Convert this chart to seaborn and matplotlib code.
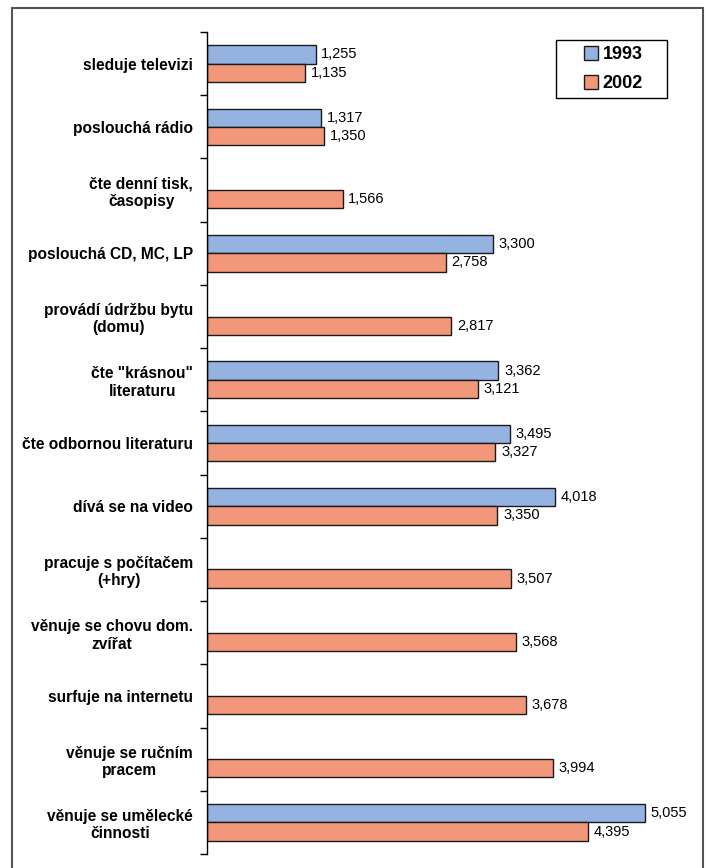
import matplotlib
matplotlib.use("Agg")
import matplotlib.pyplot as plt
import seaborn as sns
import pandas as pd
import numpy as np
from matplotlib.patches import Rectangle

categories = [
    "sleduje televizi",
    "poslouchá rádio",
    "čte denní tisk,\nčasopisy",
    "poslouchá CD, MC, LP",
    "provádí údržbu bytu\n(domu)",
    "čte \"krásnou\"\nliteraturu",
    "čte odbornou literaturu",
    "dívá se na video",
    "pracuje s počítačem\n(+hry)",
    "věnuje se chovu dom.\nzvířat",
    "surfuje na internetu",
    "věnuje se ručním\npracem",
    "věnuje se umělecké\nčinnosti",
]
values_1993 = [1.255, 1.317, np.nan, 3.300, np.nan, 3.362, 3.495, 4.018, np.nan, np.nan, np.nan, np.nan, 5.055]
values_2002 = [1.135, 1.350, 1.566, 2.758, 2.817, 3.121, 3.327, 3.350, 3.507, 3.568, 3.678, 3.994, 4.395]
years = ["1993", "2002"]
colors = ["#95b3e0", "#f3977a"]

df = pd.DataFrame({
    "cat": categories * 2,
    "year": [years[0]] * len(categories) + [years[1]] * len(categories),
    "val": values_1993 + values_2002,
})

sns.set_theme(style="white")
plt.rcParams["font.family"] = ["Liberation Sans", "DejaVu Sans"]
plt.rcParams["text.color"] = "black"

fig = plt.figure(figsize=(7.09, 8.68), dpi=100)
ax = fig.add_axes([207 / 709, 1 - 854 / 868, (700 - 207) / 709, (854 - 32) / 868])

sns.barplot(data=df, y="cat", x="val", hue="year", order=categories, hue_order=years,
            palette=colors, orient="h", width=0.58, edgecolor="#1a1a1a", linewidth=1.0,
            ax=ax, errorbar=None, saturation=1)

for cont in ax.containers:
    labels = []
    for b in cont:
        w = b.get_width()
        labels.append("" if (w is None or np.isnan(w) or w == 0) else f"{w:.3f}".replace(".", ","))
    ax.bar_label(cont, labels=labels, padding=4, fontsize=10.5, color="black")

ax.set_xlim(0, (700 - 207) / 86.7)
ax.set_ylim(len(categories) - 0.5, -0.5)
ax.set_xlabel("")
ax.set_ylabel("")
ax.set_xticks([])
for s in ["top", "right", "bottom"]:
    ax.spines[s].set_visible(False)
ax.spines["left"].set_color("black")
ax.spines["left"].set_linewidth(1.0)

ax.set_yticks(np.arange(len(categories)))
ax.set_yticklabels(categories, fontsize=11.2, fontweight="bold", color="black")
for lab in ax.get_yticklabels():
    lab.set_multialignment("center")
ax.set_yticks(np.arange(len(categories) + 1) - 0.5, minor=True)
ax.tick_params(axis="y", which="major", length=0, pad=10)
ax.tick_params(axis="y", which="minor", length=5, width=1, color="black", direction="out", left=True)

# legend without frame, frame drawn separately
leg = ax.legend(loc="upper left", bbox_to_anchor=((584 - 207) / 493, 1 - (46 - 32) / 822),
                frameon=False, prop={"weight": "bold", "size": 13},
                handlelength=0.78, handleheight=0.78, handletextpad=0.25,
                labelspacing=0.68, borderpad=0.0, borderaxespad=0.0)
for t in leg.get_texts():
    t.set_color("black")

fig.patches.append(Rectangle((556 / 709, 1 - 98 / 868), (667 - 556) / 709, (98 - 40) / 868,
                             transform=fig.transFigure, fill=False, edgecolor="black",
                             linewidth=1.0))
fig.patches.append(Rectangle((12 / 709, -0.05), (703 - 12) / 709, 1 - 8 / 868 + 0.05,
                             transform=fig.transFigure, fill=False, edgecolor="#555555",
                             linewidth=1.5))

fig.savefig("out.png", dpi=100)
